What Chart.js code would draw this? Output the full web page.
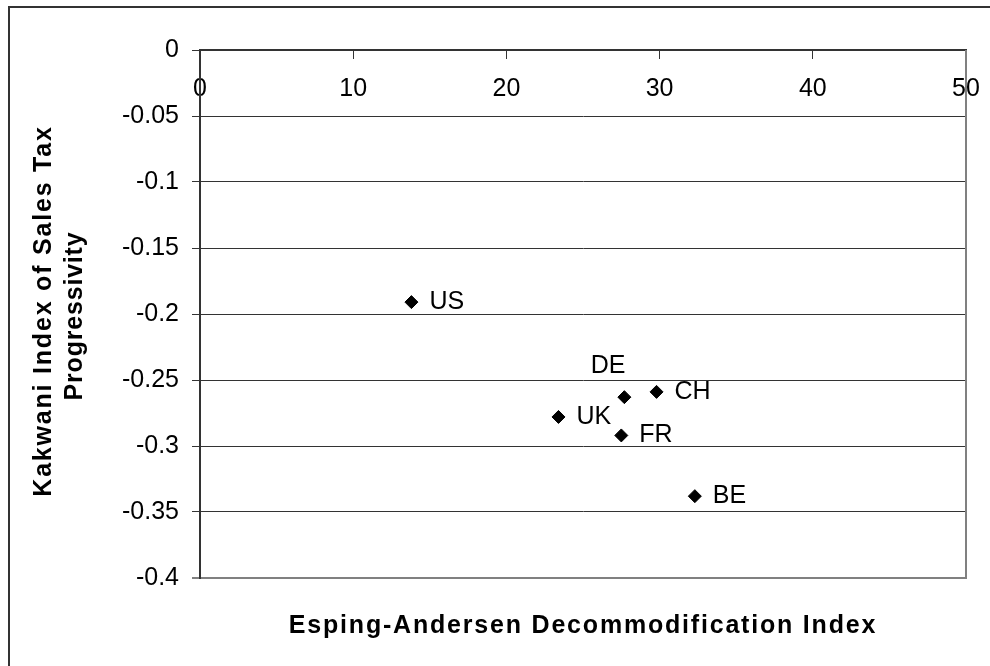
<!DOCTYPE html>
<html>
<head>
<meta charset="utf-8">
<script src="https://cdn.jsdelivr.net/npm/chart.js@4.4.1/dist/chart.umd.min.js"></script>
<style>
  html, body { margin: 0; padding: 0; background: #fff; }
  #wrap { width: 990px; height: 666px; position: relative; }
</style>
</head>
<body>
<div id="wrap"><canvas id="c" width="990" height="666"></canvas></div>
<script>
// ---- data ----
const countries = ['US', 'DE', 'CH', 'UK', 'FR', 'BE'];
const decommodification = [13.8, 27.7, 29.8, 23.4, 27.5, 32.3];
const kakwani = [-0.191, -0.263, -0.259, -0.278, -0.292, -0.338];
const xTicks = [0, 10, 20, 30, 40, 50];
const yTicks = [0, -0.05, -0.1, -0.15, -0.2, -0.25, -0.3, -0.35, -0.4];
const xTitle = 'Esping-Andersen Decommodification Index';
const yTitleLines = ['Kakwani Index of Sales Tax', 'Progressivity'];

const FONT = '"Liberation Sans", Arial, Helvetica, sans-serif';

const points = decommodification.map((x, i) => ({ x: x, y: kakwani[i] }));

const decorPlugin = {
  id: 'decor',
  beforeDraw(chart) {
    const ctx = chart.ctx;
    ctx.save();
    ctx.fillStyle = '#fff';
    ctx.fillRect(0, 0, chart.width, chart.height);
    ctx.strokeStyle = '#333';
    ctx.lineWidth = 2;
    ctx.strokeRect(9, 7, 1100, 800);
    ctx.restore();
  },
  afterDatasetsDraw(chart) {
    const ctx = chart.ctx;
    const a = chart.chartArea;
    ctx.save();
    // plot area right border (grey)
    ctx.strokeStyle = '#808080';
    ctx.lineWidth = 2;
    ctx.beginPath();
    ctx.moveTo(a.right, a.top);
    ctx.lineTo(a.right, a.bottom + 1);
    ctx.stroke();
    // point labels
    const meta = chart.getDatasetMeta(0);
    ctx.font = '25px ' + FONT;
    ctx.fillStyle = '#000';
    ctx.textBaseline = 'middle';
    meta.data.forEach((el, i) => {
      const name = countries[i];
      if (name === 'DE') {
        ctx.textAlign = 'right';
        ctx.fillText(name, el.x + 1, el.y - 31);
      } else {
        ctx.textAlign = 'left';
        ctx.fillText(name, el.x + 18, el.y);
      }
    });
    // axis titles
    ctx.font = 'bold 25px ' + FONT;
    ctx.textAlign = 'center';
    ctx.textBaseline = 'middle';
    try { ctx.letterSpacing = '1.8px'; } catch (e) {}
    ctx.fillText(xTitle, (a.left + a.right) / 2, 626);
    ctx.save();
    ctx.translate(44, 311);
    ctx.rotate(-Math.PI / 2);
    ctx.fillText(yTitleLines[0], 0, 0);
    ctx.restore();
    try { ctx.letterSpacing = '0.8px'; } catch (e) {}
    ctx.save();
    ctx.translate(75, 316);
    ctx.rotate(-Math.PI / 2);
    ctx.fillText(yTitleLines[1], 0, 0);
    ctx.restore();
    ctx.restore();
  }
};

new Chart(document.getElementById('c'), {
  type: 'scatter',
  data: {
    datasets: [{
      data: points,
      pointStyle: 'rectRot',
      pointRadius: 6.5,
      pointHoverRadius: 6.5,
      backgroundColor: '#000',
      borderColor: '#000',
      borderWidth: 1
    }]
  },
  options: {
    responsive: false,
    animation: false,
    devicePixelRatio: 1,
    layout: { padding: { left: 100, top: 50, right: 24, bottom: 88 } },
    plugins: { legend: { display: false }, tooltip: { enabled: false } },
    scales: {
      x: {
        type: 'linear',
        position: { y: 0 },
        min: 0,
        max: 50,
        afterBuildTicks: s => { s.ticks = xTicks.map(v => ({ value: v })); },
        afterFit: s => { s.paddingLeft = 0; s.paddingRight = 0; },
        ticks: {
          color: '#000',
          font: { family: FONT, size: 25 },
          padding: 16,
          maxRotation: 0,
          callback: v => String(v)
        },
        grid: {
          drawOnChartArea: false,
          drawTicks: true,
          tickLength: 8,
          tickColor: '#333',
          tickWidth: 1
        },
        border: { display: true, color: '#333', width: 2 }
      },
      y: {
        type: 'linear',
        position: 'left',
        min: -0.4,
        max: 0,
        afterBuildTicks: s => { s.ticks = yTicks.map(v => ({ value: v })); },
        afterFit: s => { s.width = 100; s.paddingTop = 0; s.paddingBottom = 0; },
        ticks: {
          color: '#000',
          font: { family: FONT, size: 25 },
          padding: 13,
          callback: v => String(v)
        },
        grid: {
          drawOnChartArea: true,
          drawTicks: true,
          tickLength: 8,
          color: c => (c.tick && c.tick.value === -0.4) ? '#808080' : '#333',
          tickColor: c => (c.tick && c.tick.value === -0.4) ? '#808080' : '#333',
          lineWidth: c => (c.tick && c.tick.value === -0.4) ? 2 : 1,
          tickWidth: c => (c.tick && c.tick.value === -0.4) ? 2 : 1
        },
        border: { display: true, color: '#333', width: 2 }
      }
    }
  },
  plugins: [decorPlugin]
});
</script>
</body>
</html>
